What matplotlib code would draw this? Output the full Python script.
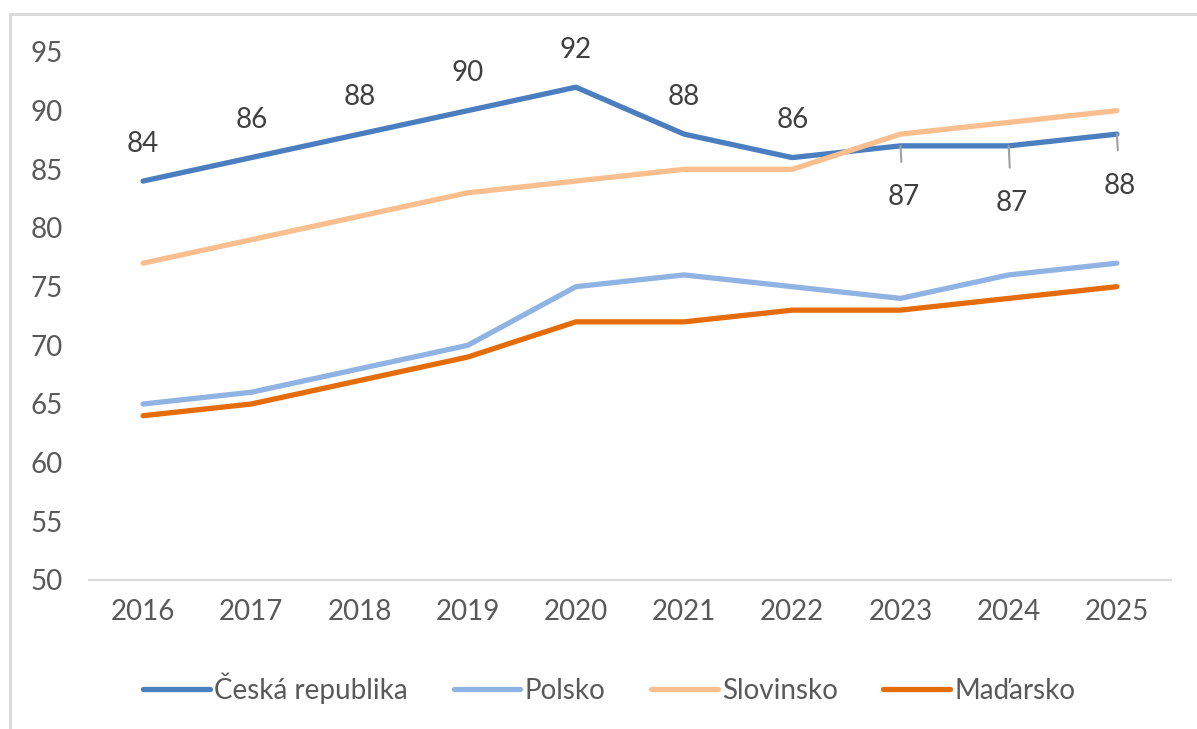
import matplotlib.pyplot as plt
from matplotlib.patches import Rectangle

plt.rcParams['font.family'] = ['Lato', 'DejaVu Sans']

# Data
years = ['2016', '2017', '2018', '2019', '2020', '2021', '2022', '2023', '2024', '2025']
cz = [84, 86, 88, 90, 92, 88, 86, 87, 87, 88]
pl = [65, 66, 68, 70, 75, 76, 75, 74, 76, 77]
si = [77, 79, 81, 83, 84, 85, 85, 88, 89, 90]
hu = [64, 65, 67, 69, 72, 72, 73, 73, 74, 75]

series = [
    ('Česká republika', cz, '#4a7ebf'),
    ('Polsko', pl, '#8fb4e3'),
    ('Slovinsko', si, '#fbbf8f'),
    ('Maďarsko', hu, '#e46c0a'),
]

fig = plt.figure(figsize=(11.97, 7.29), dpi=100)
ax = fig.add_axes([89/1197, 1-580/729, (1171-89)/1197, (580-52)/729])

x = list(range(len(years)))
for name, vals, col in series:
    ax.plot(x, vals, color=col, lw=3.8, label=name,
            solid_joinstyle='round', solid_capstyle='round')

# data labels for Czech series
txt_col = '#404040'
for i, v in enumerate(cz):
    if i < 7:
        ax.annotate(str(v), (i, v), xytext=(0, 27), textcoords='offset points',
                    ha='center', va='center', fontsize=20, color=txt_col,
                    annotation_clip=False)
    else:
        dy = -37 if i != 8 else -41
        ax.annotate(str(v), (i, v), xytext=(2, dy), textcoords='offset points',
                    ha='center', va='center', fontsize=20, color=txt_col,
                    annotation_clip=False,
                    arrowprops=dict(arrowstyle='-', color='#a0a0a0', lw=1.5,
                                    shrinkA=14, shrinkB=0))

ax.set_xlim(-0.5, len(years) - 0.5)
ax.set_ylim(50, 95)
ax.set_yticks(range(50, 96, 5))
ax.set_xticks(x)
ax.set_xticklabels(years)
ax.tick_params(axis='both', length=0, labelsize=20, colors='#595959')
ax.tick_params(axis='y', pad=19)
ax.tick_params(axis='x', pad=14)
for s in ['top', 'right', 'left']:
    ax.spines[s].set_visible(False)
ax.spines['bottom'].set_color('#d9d9d9')
ax.spines['bottom'].set_linewidth(1.5)

leg = fig.legend(loc='center', bbox_to_anchor=(0.509, 1-688/729), ncol=4,
                 frameon=False, fontsize=20, handlelength=2.4,
                 handletextpad=0.15, columnspacing=1.65)
for t in leg.get_texts():
    t.set_color('#595959')

# chart border
fig.patches.append(Rectangle((10/1197, -0.1), 1.2, 1-14/729 + 0.1,
                             transform=fig.transFigure, fill=False,
                             edgecolor='#d9d9d9', lw=2))

fig.savefig('out.png', dpi=100)
